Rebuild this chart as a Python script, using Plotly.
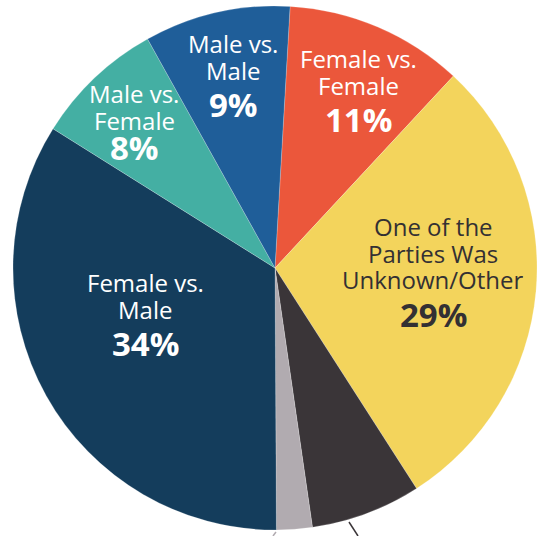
import plotly.graph_objects as go

# Data (clockwise from the top)
categories = ["Female vs. Female", "One of the Parties Was Unknown/Other", "Other A", "Other B",
              "Female vs. Male", "Male vs. Female", "Male vs. Male"]
values = [11, 29, 6.8, 2.2, 34, 8, 9]
label_lines = [["Female vs.", "Female"], ["One of the", "Parties Was", "Unknown/Other"], [], [],
               ["Female vs.", "Male"], ["Male vs.", "Female"], ["Male vs.", "Male"]]

colors = ["#EB573B", "#F3D45C", "#3A3538", "#B1ABB0", "#143D5C", "#44AFA3", "#1F5E99"]
text_colors = ["#FFFFFF", "#333033", None, None, "#FFFFFF", "#FFFFFF", "#FFFFFF"]
# label placement (pixels in the 537x536 canvas): (x center, first line y, percent y)
label_pos = [(358, 58, 119), (433, 226, 314), None, None, (145, 282, 343), (134, 93, 147), (233, 43, 104)]
LINE_GAP = 26.7

W, H = 537, 536
FONT = "Open Sans"

fig = go.Figure(go.Pie(
    labels=categories, values=values, sort=False, direction="clockwise", rotation=3.3,
    marker=dict(colors=colors, line=dict(color="rgba(255,255,255,0.4)", width=0.5)),
    textinfo="none", hoverinfo="label+percent", showlegend=False,
    domain=dict(x=[0.0242, 1.0], y=[0.0, 1.0]),
))

annotations = []
for i, pos in enumerate(label_pos):
    if pos is None:
        continue
    x, ly, py = pos
    for k, line in enumerate(label_lines[i]):
        annotations.append(dict(
            x=x / W, y=1 - (ly + k * LINE_GAP) / H, xref="paper", yref="paper",
            xanchor="center", yanchor="middle", text=line, showarrow=False, height=26,
            font=dict(family=FONT, size=24, color=text_colors[i])))
    annotations.append(dict(
        x=x / W, y=1 - py / H, xref="paper", yref="paper", xanchor="center", yanchor="middle",
        text=f"<b>{values[i]:.0f}%</b>", showarrow=False, height=34,
        font=dict(family=FONT, size=33, color=text_colors[i])))

shapes = [
    dict(type="line", xref="paper", yref="paper", x0=349 / W, y0=1 - 522 / H, x1=358 / W, y1=0,
         line=dict(color="#3A3538", width=1.5)),
    dict(type="line", xref="paper", yref="paper", x0=276 / W, y0=1 - 532 / H, x1=273 / W, y1=0,
         line=dict(color="#B1ABB0", width=1.5)),
]

fig.update_layout(
    width=W, height=H, margin=dict(l=0, r=0, t=0, b=0),
    paper_bgcolor="white", plot_bgcolor="white",
    annotations=annotations, shapes=shapes,
    font=dict(family=FONT),
)

fig.write_html("out.html", config={"displayModeBar": False},
               post_script="document.body.style.margin='0px';")
